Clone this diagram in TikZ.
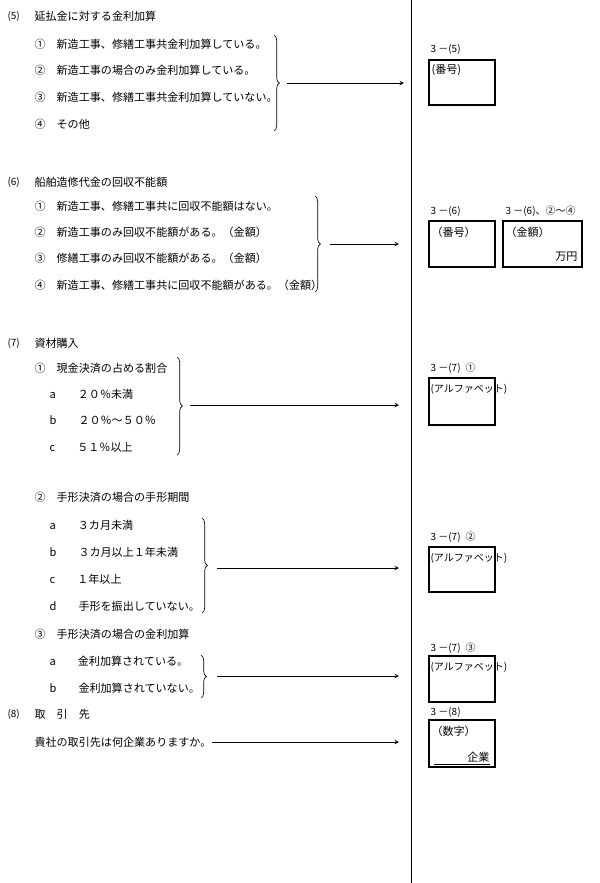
\documentclass[tikz,border=0pt]{standalone}
\usepackage{fontspec}
\setmainfont{Noto Sans CJK JP}
\usetikzlibrary{decorations.pathreplacing}
\begin{document}
\begin{tikzpicture}[x=0.75pt, y=-0.75pt, thick,
  txt/.style = {anchor=west, inner sep=0pt, font=\fontsize{8.3}{9}\selectfont},
  lab/.style = {anchor=west, inner sep=0pt, font=\fontsize{7.5}{8}\selectfont},
  ansbox/.style = {draw, line width=1pt},
  brc/.style = {decorate, decoration={brace, amplitude=4pt}, line width=0.5pt},
  arr/.style = {->, >=stealth, line width=0.5pt}]
  \useasboundingbox (0,0) rectangle (600,883);
  % divider
  \draw[line width=0.6pt] (411,0) -- (411,883);
  % (5)
  \node[lab] (h5) at (7,16) {(5)};
  \node[txt] (t5) at (34,16) {延払金に対する金利加算};
  \node[txt] (a5) at (34,44) {①\quad 新造工事、修繕工事共金利加算している。};
  \node[txt] (b5) at (34,70) {②\quad 新造工事の場合のみ金利加算している。};
  \node[txt] (c5) at (34,97) {③\quad 新造工事、修繕工事共金利加算していない。};
  \node[txt] (d5) at (34,124) {④\quad その他};
  \draw[brc] (274,35) -- (274,131);
  \coordinate (s5) at (287,83);
  \coordinate (e5) at (404,83);
  \draw[arr] (s5) -- (e5);
  \node[lab] (l5) at (430,49) {3 －(5)};
  \draw[ansbox] (429,60) rectangle (495,105);
  \node[txt] (n5) at (431,70) {(番号)};
  % (6)
  \node[lab] (h6) at (7,182) {(6)};
  \node[txt] (t6) at (34,182) {船舶造修代金の回収不能額};
  \node[txt] (a6) at (34,206) {①\quad 新造工事、修繕工事共に回収不能額はない。};
  \node[txt] (b6) at (34,232) {②\quad 新造工事のみ回収不能額がある。（金額）};
  \node[txt] (c6) at (34,258) {③\quad 修繕工事のみ回収不能額がある。（金額）};
  \node[txt] (d6) at (34,285) {④\quad 新造工事、修繕工事共に回収不能額がある。（金額）};
  \draw[brc] (315,196) -- (315,292);
  \coordinate (s6) at (330,244);
  \coordinate (e6) at (399,244);
  \draw[arr] (s6) -- (e6);
  \node[lab] (l6) at (430,211) {3 －(6)};
  \draw[ansbox] (429,221) rectangle (495,267);
  \node[txt] (n6) at (431,232) {（番号）};
  \node[lab] (m6) at (505,211) {3 －(6)、②～④};
  \draw[ansbox] (503,221) rectangle (582,267);
  \node[txt] (k6) at (505,232) {（金額）};
  \node[txt, anchor=east] (y6) at (578,257) {万円};
  % (7)
  \node[lab] (h7) at (7,343) {(7)};
  \node[txt] (t7) at (34,343) {資材購入};
  \node[txt] (p7) at (34,368) {①\quad 現金決済の占める割合};
  \node[txt] (a7) at (49,394) {a\quad 　２０％未満};
  \node[txt] (b7) at (49,420) {b\quad 　２０％～５０％};
  \node[txt] (c7) at (49,447) {c\quad 　５１％以上};
  \draw[brc] (177,357) -- (177,455);
  \coordinate (s7) at (190,405);
  \coordinate (e7) at (399,405);
  \draw[arr] (s7) -- (e7);
  \node[lab] (l7) at (430,368) {3 －(7)\enspace ①};
  \draw[ansbox] (429,378) rectangle (495,425);
  \node[lab] (n7) at (430,389) {(アルファベット)};
  % (7) 2
  \node[txt] (q7) at (34,497) {②\quad 手形決済の場合の手形期間};
  \node[txt] (f7) at (49,525) {a\quad 　３カ月未満};
  \node[txt] (g7) at (49,552) {b\quad 　３カ月以上１年未満};
  \node[txt] (i7) at (49,579) {c\quad 　１年以上};
  \node[txt] (j7) at (49,606) {d\quad 　手形を振出していない。};
  \draw[brc] (202,518) -- (202,613);
  \coordinate (s8) at (217,568);
  \coordinate (e8) at (399,568);
  \draw[arr] (s8) -- (e8);
  \node[lab] (l8) at (430,537) {3 －(7)\enspace ②};
  \draw[ansbox] (429,547) rectangle (495,592);
  \node[lab] (n8) at (430,558) {(アルファベット)};
  % (7) 3
  \node[txt] (r7) at (34,634) {③\quad 手形決済の場合の金利加算};
  \node[txt] (u7) at (49,661) {a\quad 　金利加算されている。};
  \node[txt] (v7) at (49,688) {b\quad 　金利加算されていない。};
  \draw[brc] (201,655) -- (201,698);
  \coordinate (s9) at (217,676);
  \coordinate (e9) at (399,676);
  \draw[arr] (s9) -- (e9);
  \node[lab] (l9) at (430,648) {3 －(7)\enspace ③};
  \draw[ansbox] (429,656) rectangle (495,702);
  \node[lab] (n9) at (430,667) {(アルファベット)};
  % (8)
  \node[lab] (h8) at (7,714) {(8)};
  \node[txt] (t8) at (34,714) {取\quad 引\quad 先};
  \node[txt] (q8) at (34,742) {貴社の取引先は何企業ありますか。};
  \coordinate (e10) at (399,742);
  \draw[arr] (q8.east) -- (e10);
  \node[lab] (l10) at (430,712) {3 －(8)};
  \draw[ansbox] (429,720) rectangle (495,767);
  \node[txt] (n10) at (431,731) {（数字）};
  \node[txt, anchor=east] (y10) at (490,757) {企業};
  \draw[line width=0.5pt] (434,764) -- (490,764);
\end{tikzpicture}
\end{document}
